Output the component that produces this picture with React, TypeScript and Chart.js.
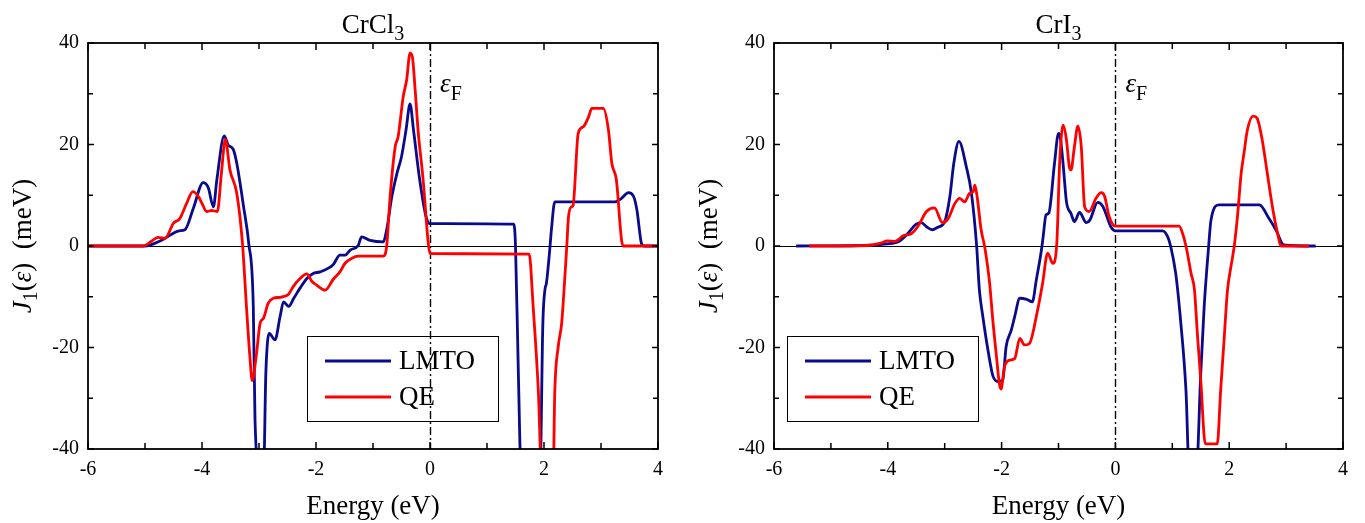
import React, { useEffect, useRef } from 'react';
import { Chart, registerables } from 'chart.js';

Chart.register(...registerables);

const FONT = '"Liberation Serif", "Times New Roman", serif';
const NAVY = '#0a0a8c';
const RED = '#ff0000';

// ---------- Data: CrCl3 ----------
const crcl3LmtoX = [-6, -5.0, -4.7, -4.4, -4.3, -4.15, -3.98, -3.89, -3.8, -3.74, -3.61, -3.54, -3.45, -3.39, -3.27, -3.18, -3.1, -3.07, -2.98, -2.92, -2.88, -2.82, -2.72, -2.63, -2.57, -2.48, -2.39, -2.28, -2.16, -2.05, -1.93, -1.7, -1.58, -1.49, -1.4, -1.26, -1.2, -1.05, -0.82, -0.76, -0.67, -0.58, -0.5, -0.42, -0.35, -0.29, -0.18, -0.07, 0.0, 1.47, 1.5, 1.55, 1.6, 1.93, 1.98, 2.02, 2.04, 2.1, 2.13, 2.19, 3.25, 3.36, 3.48, 3.57, 3.63, 3.71, 3.75, 4.0];
const crcl3LmtoY = [0, 0, 1.2, 3.0, 3.2, 7.5, 12.5, 11.5, 7.7, 13.0, 21.7, 19.9, 19.0, 16.3, 7.7, 0.5, -12, -34.3, -45, -45, -25.1, -17.2, -18.5, -13.9, -11.0, -11.9, -10.3, -8.3, -6.4, -5.4, -5.1, -3.7, -1.8, -1.8, -0.8, 0.1, 1.8, 1.1, 0.8, 3.2, 9.7, 14.3, 17.6, 22.9, 28.0, 22.9, 13.0, 5.8, 4.4, 4.3, 0, -25, -45, -45, -15.2, -8.3, -7.5, -0.8, 3.2, 8.7, 8.7, 9.4, 10.5, 9.8, 7.1, 0.5, 0, 0];

const crcl3QeX = [-6, -5.03, -4.88, -4.77, -4.65, -4.5, -4.39, -4.27, -4.16, -4.06, -4.0, -3.92, -3.83, -3.73, -3.66, -3.59, -3.51, -3.39, -3.29, -3.22, -3.16, -3.12, -3.05, -2.98, -2.92, -2.84, -2.75, -2.63, -2.48, -2.4, -2.28, -2.16, -2.07, -1.99, -1.84, -1.7, -1.58, -1.49, -1.37, -1.26, -0.82, -0.76, -0.7, -0.61, -0.56, -0.47, -0.41, -0.35, -0.31, -0.26, -0.21, -0.12, -0.03, 0.0, 1.74, 1.81, 1.9, 1.96, 2.16, 2.19, 2.25, 2.31, 2.37, 2.4, 2.43, 2.48, 2.51, 2.6, 2.69, 2.78, 2.84, 3.04, 3.13, 3.19, 3.27, 3.36, 3.39, 4.0];
const crcl3QeY = [0, 0, 1.0, 1.7, 1.5, 4.5, 5.4, 8.4, 10.7, 9.7, 8.4, 6.8, 7.0, 6.8, 14.3, 21.0, 15.0, 10.4, 0.5, -12, -21.8, -26.5, -21.8, -15.2, -14.2, -11.3, -10.3, -10.1, -9.5, -8.0, -6.4, -5.5, -7.0, -7.7, -8.7, -6.6, -5.1, -3.4, -2.4, -2.0, -2.0, 0, 9.7, 19.6, 21.5, 29.4, 32.7, 38.0, 37.3, 30.7, 22.9, 13.0, 0.5, -1.5, -1.6, -12, -28.4, -45, -45, -28.4, -19.8, -15.2, -5.4, 0, 5.8, 7.7, 8.0, 22.2, 23.5, 25.4, 27.1, 27.1, 22.9, 16.3, 13.0, 1.2, 0, 0];

// ---------- Data: CrI3 ----------
const cri3LmtoX = [-5.61, -4.49, -4.02, -3.79, -3.67, -3.5, -3.41, -3.32, -3.22, -3.12, -3.0, -2.91, -2.84, -2.75, -2.62, -2.53, -2.44, -2.39, -2.33, -2.24, -2.15, -2.06, -1.98, -1.92, -1.83, -1.77, -1.68, -1.56, -1.46, -1.39, -1.3, -1.27, -1.22, -1.17, -1.07, -1.0, -0.97, -0.92, -0.86, -0.78, -0.72, -0.63, -0.51, -0.45, -0.31, -0.22, -0.08, 0.0, 0.83, 0.92, 0.97, 1.06, 1.15, 1.24, 1.3, 1.42, 1.5, 1.56, 1.64, 1.68, 1.82, 2.53, 2.7, 2.82, 2.96, 3.52];
const cri3LmtoY = [0, 0.1, 0.4, 1.0, 2.2, 4.3, 4.6, 3.8, 3.2, 3.7, 4.8, 9.7, 16.3, 20.6, 15.6, 10.4, 0.2, -8.7, -13.9, -20.5, -25.7, -26.7, -26.4, -19.8, -16.6, -13.9, -10.3, -10.5, -11.0, -6.7, -0.8, 1.8, 6.1, 6.5, 16.3, 22.2, 21.5, 16.3, 8.7, 6.4, 4.8, 6.6, 4.6, 5.1, 8.6, 7.8, 3.8, 3.0, 3.0, 1.8, 0, -5.4, -15.2, -28.4, -45, -45, -25.1, -12, 0.1, 5.1, 8.1, 8.1, 5.4, 3.2, 0.2, 0];

const cri3QeX = [-5.38, -4.37, -4.14, -4.0, -3.88, -3.73, -3.58, -3.47, -3.32, -3.18, -3.04, -2.94, -2.82, -2.74, -2.65, -2.56, -2.5, -2.47, -2.43, -2.36, -2.3, -2.27, -2.21, -2.15, -2.09, -2.04, -2.01, -1.95, -1.86, -1.77, -1.68, -1.6, -1.51, -1.39, -1.28, -1.19, -1.1, -1.03, -0.98, -0.92, -0.86, -0.81, -0.78, -0.72, -0.66, -0.6, -0.54, -0.46, -0.34, -0.25, -0.19, -0.11, 0.0, 1.12, 1.18, 1.24, 1.33, 1.39, 1.44, 1.5, 1.58, 1.79, 1.85, 1.91, 1.97, 2.03, 2.09, 2.15, 2.21, 2.26, 2.32, 2.42, 2.49, 2.58, 2.67, 2.76, 2.85, 2.91, 3.4];
const cri3QeY = [0, 0.1, 0.5, 1.0, 0.9, 2.0, 2.5, 3.9, 6.8, 7.5, 4.6, 5.4, 8.4, 9.4, 8.7, 10.4, 10.7, 12.0, 9.7, 3.2, 0, -2.1, -7.4, -15.2, -21.8, -27.1, -28.2, -23.8, -22.5, -22.2, -18.2, -19.5, -19.2, -13.9, -7.4, -1.4, -3.4, 0.5, 16.3, 23.8, 20.9, 15.6, 15.0, 19.6, 23.6, 19.6, 7.7, 6.8, 9.4, 10.5, 9.8, 5.8, 3.9, 3.9, 2.5, 0, -5.4, -8.7, -17.2, -26.4, -39.0, -39.0, -28.4, -18.5, -8.7, -4.1, 0.1, 6.4, 14.3, 18.3, 22.9, 25.6, 25.2, 20.9, 14.3, 7.7, 2.5, 0, 0];

// ---------- Axis / labels ----------
const xMin = -6, xMax = 4, xStep = 2;
const yMin = -40, yMax = 40, yStep = 20;
const xMajorTicks = [-6, -4, -2, 0, 2, 4];
const xMinorTicks = [-5, -3, -1, 1, 3];
const yMajorTicks = [-40, -20, 0, 20, 40];
const yMinorTicks = [-30, -10, 10, 30];
const seriesNames = ['LMTO', 'QE'];
const xTitle = 'Energy (eV)';

type PanelCfg = {
  canvasLeft: number;
  canvasWidth: number;
  plotLeft: number;   // in canvas coords
  plotRight: number;  // in canvas coords
  title: string;
  titleSub: string;
  lmtoX: number[];
  lmtoY: number[];
  qeX: number[];
  qeY: number[];
  legendOffset: number; // legend box left relative to plot left
};

const H = 523;
const TOP = 43;
const BOTTOM = 449;

function richText(ctx: CanvasRenderingContext2D, parts: { t: string; size: number; italic?: boolean; dy?: number }[], x: number, y: number, align: 'center' | 'left') {
  let total = 0;
  const widths = parts.map(p => {
    ctx.font = `${p.italic ? 'italic ' : ''}${p.size}px ${FONT}`;
    const w = ctx.measureText(p.t).width;
    total += w;
    return w;
  });
  let cx = align === 'center' ? x - total / 2 : x;
  ctx.textAlign = 'left';
  ctx.textBaseline = 'alphabetic';
  parts.forEach((p, i) => {
    ctx.font = `${p.italic ? 'italic ' : ''}${p.size}px ${FONT}`;
    ctx.fillText(p.t, cx, y + (p.dy || 0));
    cx += widths[i];
  });
}

function makePlugin(cfg: PanelCfg) {
  return {
    id: 'panelDeco',
    beforeDatasetsDraw(chart: any) {
      const { ctx, chartArea: a, scales } = chart;
      const x = scales.x, y = scales.y;
      ctx.save();
      ctx.strokeStyle = '#000';
      ctx.lineWidth = 1;
      const y0 = Math.round(y.getPixelForValue(0)) + 0.5;
      ctx.beginPath();
      ctx.moveTo(a.left, y0);
      ctx.lineTo(a.right, y0);
      ctx.stroke();
      const x0 = Math.round(x.getPixelForValue(0)) + 0.5;
      ctx.lineWidth = 1.4;
      ctx.setLineDash([8, 3, 2, 3]);
      ctx.beginPath();
      ctx.moveTo(x0, a.top);
      ctx.lineTo(x0, a.bottom);
      ctx.stroke();
      ctx.restore();
    },
    afterDatasetsDraw(chart: any) {
      const { ctx, chartArea: a, scales } = chart;
      const x = scales.x, y = scales.y;
      ctx.save();
      ctx.fillStyle = '#000';
      ctx.strokeStyle = '#000';
      // frame
      ctx.lineWidth = 1.8;
      ctx.strokeRect(a.left, a.top, a.right - a.left, a.bottom - a.top);
      // ticks
      ctx.lineWidth = 1.5;
      ctx.beginPath();
      const xt = (v: number, len: number) => {
        const px = x.getPixelForValue(v);
        ctx.moveTo(px, a.bottom); ctx.lineTo(px, a.bottom - len);
        ctx.moveTo(px, a.top); ctx.lineTo(px, a.top + len);
      };
      const yt = (v: number, len: number) => {
        const py = y.getPixelForValue(v);
        ctx.moveTo(a.left, py); ctx.lineTo(a.left + len, py);
        ctx.moveTo(a.right, py); ctx.lineTo(a.right - len, py);
      };
      xMajorTicks.forEach(v => xt(v, 7));
      xMinorTicks.forEach(v => xt(v, 6));
      yMajorTicks.forEach(v => yt(v, 6));
      yMinorTicks.forEach(v => yt(v, 5));
      ctx.stroke();

      const cx = (a.left + a.right) / 2;
      // title
      richText(ctx, [{ t: cfg.title, size: 27 }, { t: cfg.titleSub, size: 20, dy: 7 }], cx, 33, 'center');
      // x title
      ctx.font = `27px ${FONT}`;
      ctx.textAlign = 'center';
      ctx.textBaseline = 'alphabetic';
      ctx.fillText(xTitle, cx, 514);
      // y title (rotated)
      ctx.save();
      ctx.translate(a.left - 57, (a.top + a.bottom) / 2);
      ctx.rotate(-Math.PI / 2);
      richText(ctx, [
        { t: 'J', size: 27, italic: true },
        { t: '1', size: 20, dy: 6 },
        { t: '(', size: 27 },
        { t: 'ε', size: 27, italic: true },
        { t: ')', size: 27 },
        { t: '  (meV)', size: 27 },
      ], 0, 0, 'center');
      ctx.restore();
      // epsilon F
      const x0 = x.getPixelForValue(0);
      richText(ctx, [{ t: 'ε', size: 27, italic: true }, { t: 'F', size: 20, dy: 8 }], x0 + 10, 92, 'left');
      // legend
      const lx = a.left + cfg.legendOffset;
      const ly = 336;
      ctx.lineWidth = 1;
      ctx.strokeRect(Math.round(lx) + 0.5, ly + 0.5, 191, 85);
      const rows = [
        { name: seriesNames[0], color: NAVY, dy: 25 },
        { name: seriesNames[1], color: RED, dy: 61 },
      ];
      rows.forEach(r => {
        ctx.strokeStyle = r.color;
        ctx.lineWidth = 3;
        ctx.beginPath();
        ctx.moveTo(lx + 18, ly + r.dy);
        ctx.lineTo(lx + 84, ly + r.dy);
        ctx.stroke();
        ctx.fillStyle = '#000';
        ctx.font = `27px ${FONT}`;
        ctx.textAlign = 'left';
        ctx.textBaseline = 'middle';
        ctx.fillText(r.name, lx + 92, ly + r.dy + 1);
      });
      ctx.restore();
    },
  };
}

function Panel({ cfg }: { cfg: PanelCfg }) {
  const ref = useRef<HTMLCanvasElement | null>(null);
  useEffect(() => {
    if (!ref.current) return;
    const toPts = (xs: number[], ys: number[]) => xs.map((v, i) => ({ x: v, y: ys[i] }));
    const chart = new Chart(ref.current, {
      type: 'line',
      data: {
        datasets: [
          {
            label: seriesNames[0],
            data: toPts(cfg.lmtoX, cfg.lmtoY),
            borderColor: NAVY,
            borderWidth: 2.8,
            pointRadius: 0,
            cubicInterpolationMode: 'monotone',
            fill: false,
            order: 1,
          },
          {
            label: seriesNames[1],
            data: toPts(cfg.qeX, cfg.qeY),
            borderColor: RED,
            borderWidth: 2.8,
            pointRadius: 0,
            cubicInterpolationMode: 'monotone',
            fill: false,
            order: 0,
          },
        ],
      },
      options: {
        responsive: false,
        animation: false,
        events: [],
        layout: { padding: { left: 0, top: TOP, right: cfg.canvasWidth - cfg.plotRight, bottom: 0 } },
        plugins: { legend: { display: false }, tooltip: { enabled: false }, title: { display: false } },
        scales: {
          x: {
            type: 'linear',
            min: xMin,
            max: xMax,
            grid: { display: false, drawTicks: false },
            border: { display: false },
            ticks: { stepSize: xStep, color: '#000', font: { family: FONT, size: 20 }, padding: 9, maxRotation: 0 },
            afterFit: (s: any) => { s.height = H - BOTTOM; },
          },
          y: {
            type: 'linear',
            min: yMin,
            max: yMax,
            grid: { display: false, drawTicks: false },
            border: { display: false },
            ticks: { stepSize: yStep, color: '#000', font: { family: FONT, size: 20 }, padding: 9 },
            afterFit: (s: any) => { s.width = cfg.plotLeft; },
          },
        },
      } as any,
      plugins: [makePlugin(cfg)],
    });
    return () => chart.destroy();
  }, [cfg]);
  return (
    <canvas
      ref={ref}
      width={cfg.canvasWidth}
      height={H}
      style={{ position: 'absolute', left: cfg.canvasLeft, top: 0, width: cfg.canvasWidth, height: H }}
    />
  );
}

const leftCfg: PanelCfg = {
  canvasLeft: 0, canvasWidth: 690, plotLeft: 88, plotRight: 658,
  title: 'CrCl', titleSub: '3',
  lmtoX: crcl3LmtoX, lmtoY: crcl3LmtoY, qeX: crcl3QeX, qeY: crcl3QeY,
  legendOffset: 219,
};
const rightCfg: PanelCfg = {
  canvasLeft: 690, canvasWidth: 675, plotLeft: 84, plotRight: 653,
  title: 'CrI', titleSub: '3',
  lmtoX: cri3LmtoX, lmtoY: cri3LmtoY, qeX: cri3QeX, qeY: cri3QeY,
  legendOffset: 13,
};

export default function App() {
  return (
    <div style={{ position: 'fixed', left: 0, top: 0, width: 1365, height: H, background: '#fff', overflow: 'hidden' }}>
      <Panel cfg={leftCfg} />
      <Panel cfg={rightCfg} />
    </div>
  );
}
